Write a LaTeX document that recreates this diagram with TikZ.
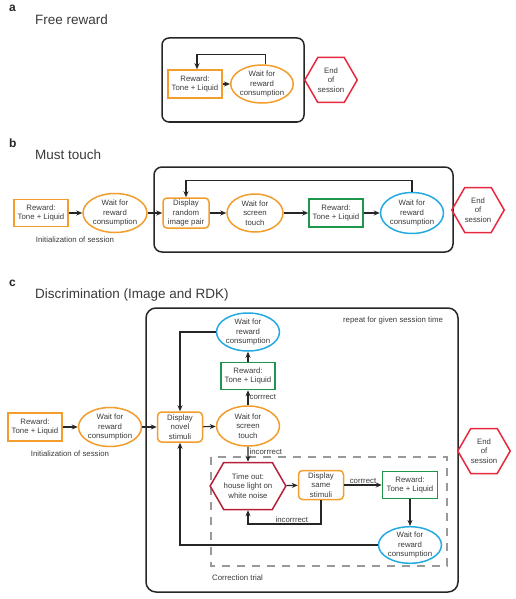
\documentclass[tikz,border=0pt]{standalone}
\usepackage{fontspec}
\setmainfont{Liberation Sans}
\usetikzlibrary{arrows.meta,shapes.geometric,shapes.symbols}
\definecolor{rworange}{RGB}{242,157,44}
\definecolor{rwgreen}{RGB}{30,150,75}
\definecolor{rwblue}{RGB}{35,170,225}
\definecolor{rwred}{RGB}{232,40,62}
\definecolor{rwdarkred}{RGB}{182,32,56}
\definecolor{txtgray}{RGB}{58,58,58}

\begin{document}
\begin{tikzpicture}[x=1pt,y=-1pt,
		txt/.style={text=txtgray,font=\fontsize{7.8}{9.3}\selectfont,align=center,inner sep=0pt},
		rewbox/.style={txt,draw=#1,line width=1.5pt,minimum width=54pt,minimum height=28pt},
		waitell/.style={txt,ellipse,draw=#1,line width=1.5pt,minimum width=63pt,minimum height=39pt},
		dispbox/.style={txt,draw=rworange,rounded corners=4pt,line width=1.5pt,minimum width=46pt,minimum height=30pt},
		hexnode/.style={txt,signal,signal to=west and east,signal pointer angle=120,draw=#1,line width=1.5pt,minimum width=51pt,minimum height=45pt},
		frame/.style={draw=black!85,line width=1.5pt,rounded corners=#1},
		arr/.style={-{Stealth[length=6pt,width=5pt]},line width=1.2pt,black!85},
		lbl/.style={text=txtgray,font=\fontsize{7.8}{9.3}\selectfont,inner sep=1pt},
		panel/.style={anchor=west,text=black!85,font=\bfseries\fontsize{12}{14}\selectfont,inner sep=0pt},
		title/.style={anchor=west,text=txtgray,font=\fontsize{13.5}{16}\selectfont,inner sep=0pt}]
		\useasboundingbox (0,0) rectangle (516,599);

		\node[panel] (labA) at (9,8) {a};
		\node[title] (titA) at (35,20) {Free reward};
		\draw[frame=7pt] (162,38) rectangle (304,122);
		\node[rewbox=rworange] (aRew) at (195,84) {Reward:\\Tone + Liquid};
		\node[waitell=rworange,minimum width=55pt,minimum height=38pt] (aWait) at (262,84) {Wait for\\reward\\consumption};
		\node[hexnode=rwred] (aEnd) at (331,80) {End\\of\\session};
		\draw[arr] (aRew) -- (aWait);
		\draw[arr] (aWait.80) -- ++(0,-10) -| ([xshift=2pt]aRew.north);

		\node[panel] (labB) at (9,143) {b};
		\node[title] (titB) at (35,155) {Must touch};
		\draw[frame=8pt] (154,167) rectangle (453,252);
		\node[rewbox=rworange,minimum height=27pt] (bRew) at (41,213) {Reward:\\Tone + Liquid};
		\node[waitell=rworange,minimum width=64pt] (bWait) at (115,213) {Wait for\\reward\\consumption};
		\node[dispbox] (bDisp) at (186,213) {Display\\random\\image pair};
		\node[waitell=rworange,minimum width=56pt,minimum height=38pt] (bTouch) at (255,213) {Wait for\\screen\\touch};
		\node[rewbox=rwgreen] (bRew2) at (336,213) {Reward:\\Tone + Liquid};
		\node[waitell=rwblue,minimum height=41pt] (bCons) at (412,213) {Wait for\\reward\\consumption};
		\node[hexnode=rwred] (bEnd) at (478,210) {End\\of\\session};
		\node[lbl] (bInit) at (75,240) {Initialization of session};
		\draw[arr] (bRew) -- (bWait);
		\draw[arr] (bWait) -- (bDisp);
		\draw[arr] (bDisp) -- (bTouch);
		\draw[arr] (bTouch) -- (bRew2);
		\draw[arr] (bRew2) -- (bCons);
		\draw[arr] (bCons.north) -- ++(0,-11) -| (bDisp.north);

		\node[panel] (labC) at (9,283) {c};
		\node[title] (titC) at (35,295) {Discrimination (Image and RDK)};
		\draw[frame=10pt] (146,308) rectangle (458,592);
		\draw[dashed,dash pattern=on 8pt off 7pt,gray!80,line width=1.2pt] (211,457) rectangle (447,566);
		\node[lbl] (cRepeat) at (393,320) {repeat for given session time};
		\node[lbl,anchor=west] (cCorr) at (211,578) {Correction trial};
		\node[waitell=rwblue,minimum height=38pt] (cCons1) at (248,332) {Wait for\\reward\\consumption};
		\node[rewbox=rwgreen,minimum height=27pt] (cRew) at (248,376) {Reward:\\Tone + Liquid};
		\node[rewbox=rworange] (cRew0) at (35,427) {Reward:\\Tone + Liquid};
		\node[waitell=rworange] (cWait0) at (110,427) {Wait for\\reward\\consumption};
		\node[lbl] (cInit) at (70,454) {Initialization of session};
		\node[dispbox,minimum width=45pt] (cDisp) at (180,427) {Display\\novel\\stimuli};
		\node[waitell=rworange,minimum height=40pt] (cTouch) at (248,426) {Wait for\\screen\\touch};
		\node[hexnode=rwdarkred,minimum width=61pt,minimum height=47pt] (cTime) at (248,486) {Time out:\\house light on\\white noise};
		\node[dispbox,minimum width=45pt,minimum height=29pt] (cSame) at (321,485) {Display\\same\\stimuli};
		\node[rewbox=rwgreen,minimum width=55pt,minimum height=27pt] (cRew2) at (410,485) {Reward:\\Tone + Liquid};
		\node[waitell=rwblue,minimum height=36pt] (cCons2) at (410,545) {Wait for\\reward\\consumption};
		\node[hexnode=rwred] (cEnd) at (484,451) {End\\of\\session};
		\draw[arr] (cRew0) -- (cWait0);
		\draw[arr] (cWait0) -- (cDisp);
		\draw[arr] (cDisp) -- (cTouch);
		\draw[arr] (cTouch) -- node[lbl,right,pos=0.55] {corrrect} (cRew);
		\draw[arr] (cRew) -- (cCons1);
		\draw[arr] (cCons1.west) -| (cDisp.north);
		\draw[arr] (cTouch) -- node[lbl,right,pos=0.3] {incorrrect} (cTime);
		\draw[arr] (cTime) -- (cSame);
		\draw[arr] (cSame) -- node[lbl,above] {corrrect} (cRew2);
		\draw[arr] (cRew2) -- (cCons2);
		\draw[arr] (cSame.south) |- (248,524) node[lbl,above,pos=0.7] {incorrrect} -- (cTime.south);
		\draw[arr] (cCons2.west) -| (cDisp.south);
	\end{tikzpicture}
\end{document}
